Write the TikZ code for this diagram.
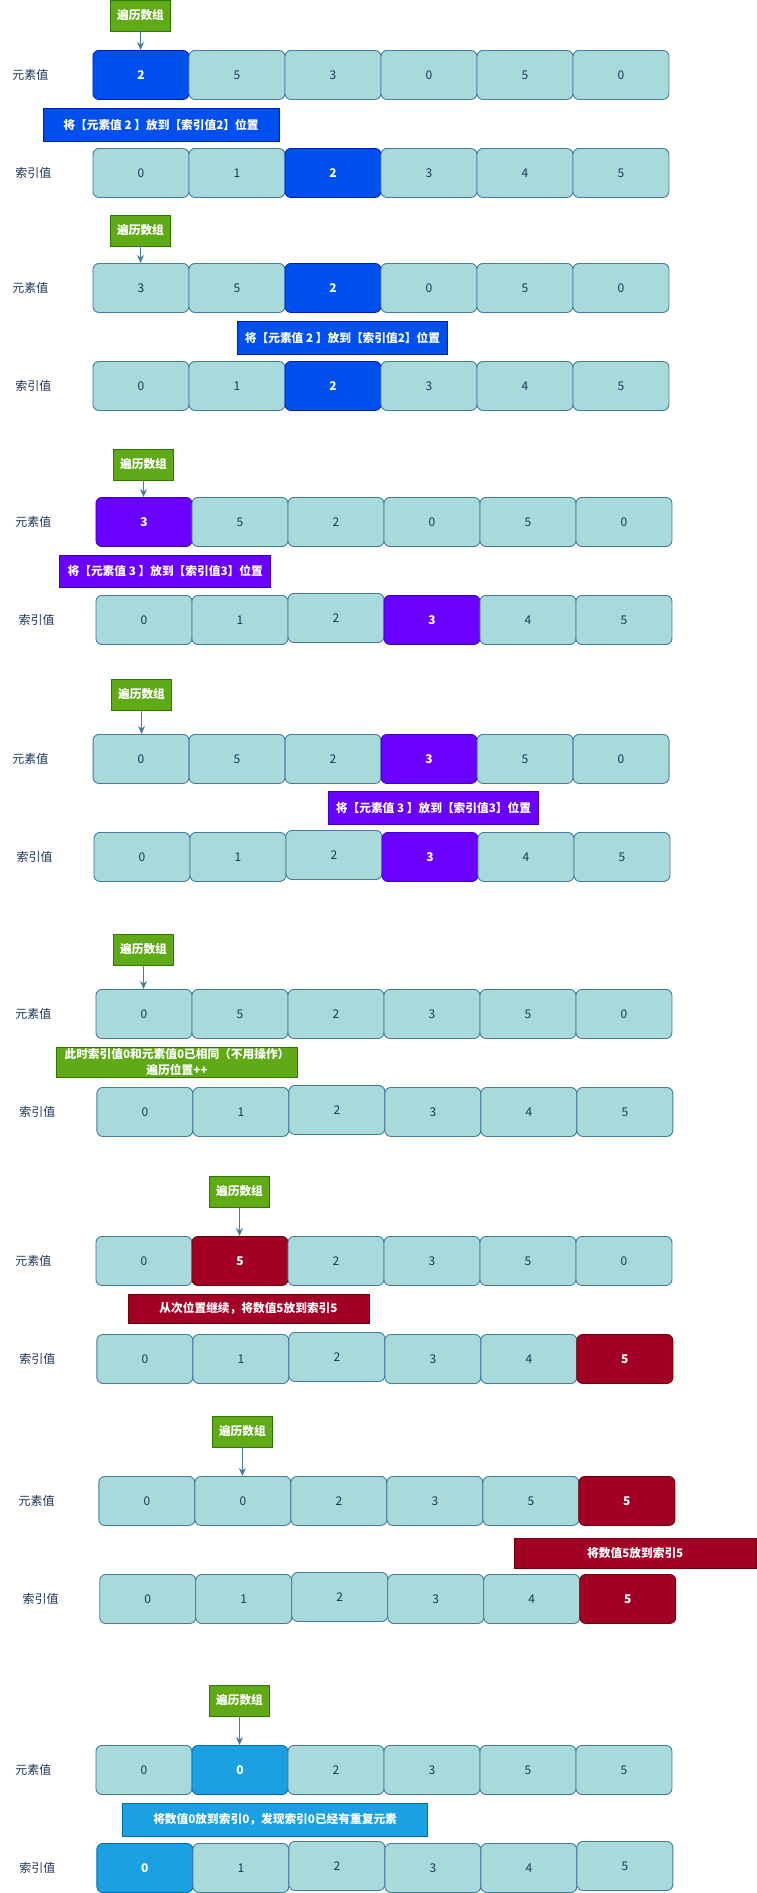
\documentclass[tikz,border=0pt]{standalone}
\usepackage{fontspec}
\setmainfont{Noto Sans CJK SC}
\usetikzlibrary{arrows.meta}
\definecolor{cellf}{HTML}{A8DADC}
\definecolor{celld}{HTML}{457B9D}
\definecolor{cellt}{HTML}{1D3557}
\definecolor{bluf}{HTML}{0050EF}
\definecolor{blud}{HTML}{001DBC}
\definecolor{purf}{HTML}{6A00FF}
\definecolor{purd}{HTML}{3700CC}
\definecolor{grnf}{HTML}{60A917}
\definecolor{grnd}{HTML}{2D7600}
\definecolor{crmf}{HTML}{A20025}
\definecolor{crmd}{HTML}{6F0000}
\definecolor{skyf}{HTML}{1BA1E2}
\definecolor{skyd}{HTML}{006EAF}
\tikzset{
  blu/.style={fill=bluf,draw=blud},
  pur/.style={fill=purf,draw=purd},
  grn/.style={fill=grnf,draw=grnd},
  crm/.style={fill=crmf,draw=crmd},
  sky/.style={fill=skyf,draw=skyd},
  cell/.style={draw=celld,fill=cellf,text=cellt,line width=0.9pt,rounded corners=6pt,
    minimum width=96pt,minimum height=49pt,inner sep=0pt,anchor=north west},
  celup/.style={cell,yshift=2pt},
  hot/.style={cell,text=white,font=\fontsize{12}{14}\selectfont\bfseries},
  hblu/.style={hot,blu}, hpur/.style={hot,pur}, hcrm/.style={hot,crm}, hsky/.style={hot,sky},
  rowlab/.style={text=cellt},
  ptr/.style={grn,text=white,font=\fontsize{11.7}{14}\selectfont\bfseries,line width=0.9pt,
    minimum width=60pt,minimum height=31pt,inner sep=0pt},
  note/.style={text=white,font=\fontsize{11.7}{16}\selectfont\bfseries,line width=0.9pt,
    inner sep=0pt,align=center},
  arr/.style={draw=celld,line width=0.9pt,-{Stealth[length=8pt,width=7pt]}}
}
\begin{document}
\begin{tikzpicture}[x=1pt,y=-1pt,font=\fontsize{12}{14}\selectfont]
\path[use as bounding box,fill=white] (0,0) rectangle (756,1893);
% 1
\node[rowlab] (el1) at (30.5,74.5) {元素值};
\node[rowlab] (il1) at (33.5,172.5) {索引值};
\foreach \v/\s [count=\i from 0] in {2/hblu,5/cell,3/cell,0/cell,5/cell,0/cell}
  \node[\s] (e1-\i) at (92.5+96*\i,50) {\v};
\foreach \s [count=\i from 0] in {cell,cell,hblu,cell,cell,cell}
  \node[\s] (i1-\i) at (92.5+96*\i,148) {\i};
\node[ptr] (g1) at (140.5,15.5) {遍历数组};
\draw[arr] (g1) -- (g1 |- e1-0.north);
\node[note,blu,minimum width=236pt,minimum height=33pt] (n1) at (161,124.5) {将【元素值 2 】放到【索引值2】位置};
% 2
\node[rowlab] (el2) at (30.5,287.5) {元素值};
\node[rowlab] (il2) at (33.5,385.5) {索引值};
\foreach \v/\s [count=\i from 0] in {3/cell,5/cell,2/hblu,0/cell,5/cell,0/cell}
  \node[\s] (e2-\i) at (92.5+96*\i,263) {\v};
\foreach \s [count=\i from 0] in {cell,cell,hblu,cell,cell,cell}
  \node[\s] (i2-\i) at (92.5+96*\i,361) {\i};
\node[ptr] (g2) at (140.5,230.5) {遍历数组};
\draw[arr] (g2) -- (g2 |- e2-0.north);
\node[note,blu,minimum width=210pt,minimum height=33pt] (n2) at (342.5,337.5) {将【元素值 2 】放到【索引值2】位置};
% 3
\node[rowlab] (el3) at (33.5,521.5) {元素值};
\node[rowlab] (il3) at (36.5,619.5) {索引值};
\foreach \v/\s [count=\i from 0] in {3/hpur,5/cell,2/cell,0/cell,5/cell,0/cell}
  \node[\s] (e3-\i) at (95.5+96*\i,497) {\v};
\foreach \s [count=\i from 0] in {cell,cell,celup,hpur,cell,cell}
  \node[\s] (i3-\i) at (95.5+96*\i,595) {\i};
\node[ptr] (g3) at (143.5,464.5) {遍历数组};
\draw[arr] (g3) -- (g3 |- e3-0.north);
\node[note,pur,minimum width=211pt,minimum height=32pt] (n3) at (165.2,571) {将【元素值 3 】放到【索引值3】位置};
% 4
\node[rowlab] (el4) at (30.5,758.5) {元素值};
\node[rowlab] (il4) at (34.5,856.5) {索引值};
\foreach \v/\s [count=\i from 0] in {0/cell,5/cell,2/cell,3/hpur,5/cell,0/cell}
  \node[\s] (e4-\i) at (92.6+96*\i,734) {\v};
\foreach \s [count=\i from 0] in {cell,cell,celup,hpur,cell,cell}
  \node[\s] (i4-\i) at (93.5+96*\i,832) {\i};
\node[ptr] (g4) at (141.5,694.5) {遍历数组};
\draw[arr] (g4) -- (g4 |- e4-0.north);
\node[note,pur,minimum width=210pt,minimum height=33pt] (n4) at (433.5,807.5) {将【元素值 3 】放到【索引值3】位置};
% 5
\node[rowlab] (el5) at (33.5,1013.5) {元素值};
\node[rowlab] (il5) at (37.5,1111.5) {索引值};
\foreach \v/\s [count=\i from 0] in {0/cell,5/cell,2/cell,3/cell,5/cell,0/cell}
  \node[\s] (e5-\i) at (95.5+96*\i,989) {\v};
\foreach \s [count=\i from 0] in {cell,cell,celup,cell,cell,cell}
  \node[\s] (i5-\i) at (96.4+96*\i,1087) {\i};
\node[ptr] (g5) at (143.5,949.5) {遍历数组};
\draw[arr] (g5) -- (g5 |- e5-0.north);
\node[note,grn,minimum width=241pt,minimum height=30pt] (n5) at (177,1062) {此时索引值0和元素值0已相同（不用操作）\\遍历位置++};
% 6
\node[rowlab] (el6) at (33.5,1260.5) {元素值};
\node[rowlab] (il6) at (37.5,1358.5) {索引值};
\foreach \v/\s [count=\i from 0] in {0/cell,5/hcrm,2/cell,3/cell,5/cell,0/cell}
  \node[\s] (e6-\i) at (95.5+96*\i,1236) {\v};
\foreach \s [count=\i from 0] in {cell,cell,celup,cell,cell,hcrm}
  \node[\s] (i6-\i) at (96.4+96*\i,1334) {\i};
\node[ptr] (g6) at (239.5,1191.5) {遍历数组};
\draw[arr] (g6) -- (g6 |- e6-1.north);
\node[note,crm,minimum width=241pt,minimum height=29pt] (n6) at (248.5,1308.5) {从次位置继续，将数值5放到索引5};
% 7
\node[rowlab] (el7) at (36.5,1500.5) {元素值};
\node[rowlab] (il7) at (40.5,1598.5) {索引值};
\foreach \v/\s [count=\i from 0] in {0/cell,0/cell,2/cell,3/cell,5/cell,5/hcrm}
  \node[\s] (e7-\i) at (98.4+96*\i,1476) {\v};
\foreach \s [count=\i from 0] in {cell,cell,celup,cell,cell,hcrm}
  \node[\s] (i7-\i) at (99.3+96*\i,1574) {\i};
\node[ptr] (g7) at (242.4,1431.5) {遍历数组};
\draw[arr] (g7) -- (g7 |- e7-1.north);
\node[note,crm,minimum width=241.5pt,minimum height=30pt] (n7) at (635.25,1553) {将数值5放到索引5};
% 8
\node[rowlab] (el8) at (33.5,1769.5) {元素值};
\node[rowlab] (il8) at (37.5,1867.5) {索引值};
\foreach \v/\s [count=\i from 0] in {0/cell,0/hsky,2/cell,3/cell,5/cell,5/cell}
  \node[\s] (e8-\i) at (95.5+96*\i,1745) {\v};
\foreach \s [count=\i from 0] in {hsky,cell,celup,cell,cell,celup}
  \node[\s] (i8-\i) at (96.4+96*\i,1843) {\i};
\node[ptr] (g8) at (239.5,1700.5) {遍历数组};
\draw[arr] (g8) -- (g8 |- e8-1.north);
\node[note,sky,minimum width=305pt,minimum height=33pt] (n8) at (275.1,1819.5) {将数值0放到索引0，发现索引0已经有重复元素};
\end{tikzpicture}
\end{document}
